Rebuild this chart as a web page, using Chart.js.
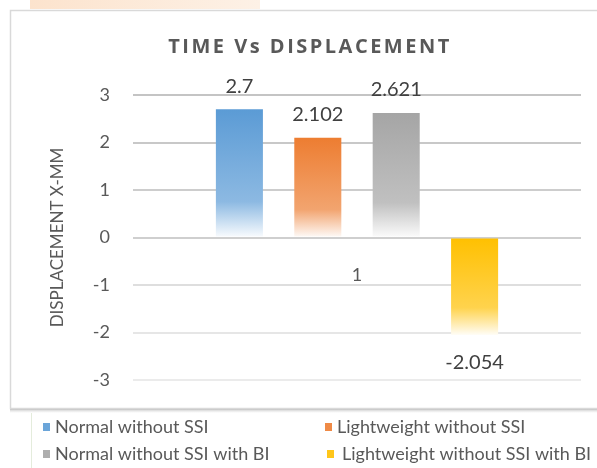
<!DOCTYPE html>
<html>
<head>
<meta charset="utf-8">
<script src="https://cdn.jsdelivr.net/npm/chart.js@4.4.1/dist/chart.umd.min.js"></script>
<style>
  html, body { margin: 0; padding: 0; background: #ffffff; }
  #wrap { position: absolute; left: 0; top: 0; width: 597px; height: 468px; }
</style>
</head>
<body>
<div id="wrap"><canvas id="c" width="597" height="468"></canvas></div>
<script>
// ---- data ----
const categories = ['1'];
const seriesNames = ['Normal without SSI', 'Lightweight without SSI', 'Normal without SSI with BI', 'Lightweight without SSI with BI'];
const seriesValues = [[2.7], [2.102], [2.621], [-2.054]];
const seriesColors = ['#5B9BD5', '#ED7D31', '#A5A5A5', '#FFC000'];
const yTicks = [-3, -2, -1, 0, 1, 2, 3];
const chartTitle = 'TIME Vs DISPLACEMENT';
const yAxisTitle = 'DISPLACEMENT X-MM';

function mix(hex, t) {
  const r = parseInt(hex.slice(1, 3), 16), g = parseInt(hex.slice(3, 5), 16), b = parseInt(hex.slice(5, 7), 16);
  const m = c => Math.round(c + (255 - c) * t);
  return 'rgb(' + m(r) + ',' + m(g) + ',' + m(b) + ')';
}

function gradientFor(base) {
  return function (ctx) {
    const chart = ctx.chart;
    if (!chart.chartArea || ctx.raw === undefined) return base;
    const ys = chart.scales.y;
    const p0 = ys.getPixelForValue(0), p1 = ys.getPixelForValue(ctx.raw);
    const top = Math.min(p0, p1), bot = Math.max(p0, p1);
    const g = chart.ctx.createLinearGradient(0, top, 0, bot);
    g.addColorStop(0, base);
    g.addColorStop(0.72, mix(base, 0.3));
    g.addColorStop(1, mix(base, 0.97));
    return g;
  };
}

const gridColors = { '3': '#c4c4c4', '2': '#c8c8c8', '1': '#cdcdcd', '0': '#cfcfcf', '-1': '#dedede', '-2': '#e6e6e6', '-3': '#ebebeb' };

const frame = {
  id: 'frame',
  beforeDraw(chart) {
    const c = chart.ctx;
    c.save();
    c.fillStyle = '#ffffff';
    c.fillRect(0, 0, 597, 468);
    // faint backdrop strips outside the chart box
    const pg = c.createLinearGradient(30, 0, 260, 0);
    pg.addColorStop(0, '#fce3cd');
    pg.addColorStop(1, '#fdf1e6');
    c.fillStyle = pg;
    c.fillRect(30, 0, 230, 9);
    // chart box
    c.strokeStyle = '#d9d9d9';
    c.lineWidth = 1.5;
    c.beginPath();
    c.moveTo(600, 10.5); c.lineTo(10.5, 10.5); c.lineTo(10.5, 408.5); c.lineTo(600, 408.5);
    c.stroke();
    const sh = c.createLinearGradient(0, 409, 0, 413);
    sh.addColorStop(0, 'rgba(160,160,160,0.6)');
    sh.addColorStop(1, 'rgba(200,200,200,0)');
    c.fillStyle = sh;
    c.fillRect(10, 409, 590, 4);
    // legend panel edge
    c.strokeStyle = '#e4ecdc';
    c.lineWidth = 1;
    c.beginPath(); c.moveTo(31.5, 413); c.lineTo(31.5, 468); c.stroke();
    // title
    c.font = 'bold 20px "Open Sans"';
    c.fillStyle = '#595959';
    c.textAlign = 'center';
    c.textBaseline = 'middle';
    if ('letterSpacing' in c) c.letterSpacing = '2.5px';
    c.fillText(chartTitle, 310, 47);
    if ('letterSpacing' in c) c.letterSpacing = '0px';
    c.restore();
  },
  afterDatasetsDraw(chart) {
    const c = chart.ctx;
    c.save();
    c.font = '20px Lato';
    c.fillStyle = '#404040';
    c.textAlign = 'center';
    c.textBaseline = 'middle';
    chart.data.datasets.forEach((ds, i) => {
      const meta = chart.getDatasetMeta(i);
      meta.data.forEach((bar, j) => {
        const v = ds.data[j];
        const y = v >= 0 ? bar.y - 23 : bar.y + 27;
        c.fillText(String(v), bar.x, y);
      });
    });
    c.restore();
  },
  afterDraw(chart) {
    const c = chart.ctx;
    c.save();
    c.font = '18px Lato';
    c.textAlign = 'left';
    c.textBaseline = 'middle';
    const pos = [
      { mx: 43, tx: 55, y: 427 },
      { mx: 325, tx: 337, y: 427 },
      { mx: 43, tx: 55, y: 454 },
      { mx: 327, tx: 342, y: 454 }
    ];
    chart.data.datasets.forEach((ds, i) => {
      const p = pos[i];
      c.fillStyle = mix(seriesColors[i], 0.1);
      c.fillRect(p.mx, p.y - 4, 7, 8);
      c.fillStyle = '#595959';
      c.fillText(ds.label, p.tx, p.y);
    });
    c.restore();
  }
};

new Chart(document.getElementById('c'), {
  type: 'bar',
  data: {
    labels: categories,
    datasets: seriesNames.map((name, i) => ({
      label: name,
      data: seriesValues[i],
      backgroundColor: gradientFor(seriesColors[i]),
      borderWidth: 0,
      categoryPercentage: 0.7,
      barPercentage: 0.6
    }))
  },
  options: {
    responsive: false,
    animation: false,
    devicePixelRatio: 1,
    layout: { padding: { left: 10, right: 16, top: 95, bottom: 88 } },
    plugins: {
      legend: { display: false },
      title: { display: false },
      tooltip: { enabled: false }
    },
    scales: {
      x: {
        type: 'category',
        position: { y: 0 },
        grid: { display: false, drawTicks: false },
        border: { display: false },
        ticks: { padding: 27, color: '#595959', font: { family: 'Lato', size: 18 } }
      },
      y: {
        min: -3,
        max: 3,
        afterFit(scale) { scale.width = 123; },
        afterBuildTicks(scale) { scale.ticks = yTicks.map(v => ({ value: v })); },
        grid: {
          drawTicks: false,
          lineWidth: 2,
          color: ctx => gridColors[String(ctx.tick && ctx.tick.value)] || '#d9d9d9'
        },
        border: { display: false },
        ticks: { padding: 23, color: '#595959', font: { family: 'Lato', size: 18 } },
        title: {
          display: true,
          text: yAxisTitle,
          color: '#595959',
          font: { family: 'Lato', size: 17 },
          padding: { top: 37, bottom: 0 }
        }
      }
    }
  },
  plugins: [frame]
});
</script>
</body>
</html>
